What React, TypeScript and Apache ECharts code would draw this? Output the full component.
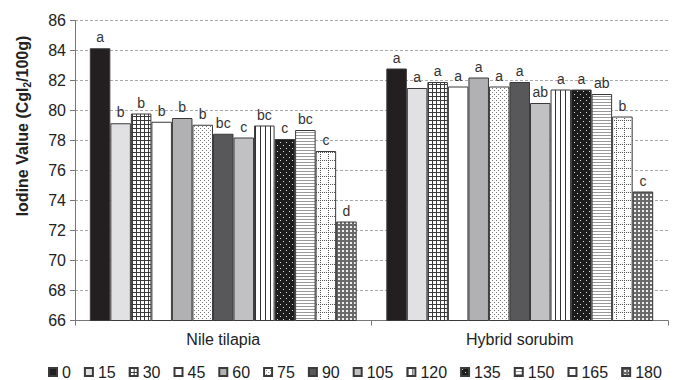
import React, { useEffect, useRef } from "react";
import * as echarts from "echarts";

const categories = ["Nile tilapia", "Hybrid sorubim"];
const times = ["0", "15", "30", "45", "60", "75", "90", "105", "120", "135", "150", "165", "180"];
const nileValues = [84.15, 79.15, 79.8, 79.25, 79.5, 79.05, 78.45, 78.2, 79.0, 78.1, 78.7, 77.3, 72.6];
const hybridValues = [82.8, 81.5, 81.9, 81.6, 82.2, 81.6, 81.9, 80.5, 81.4, 81.4, 81.1, 79.6, 74.6];
const nileLetters = ["a", "b", "b", "b", "b", "b", "bc", "c", "bc", "c", "bc", "c", "d"];
const hybridLetters = ["a", "a", "a", "a", "a", "a", "a", "ab", "a", "a", "ab", "b", "c"];
const yTicks = { min: 66, max: 86, interval: 2 };

const FONT = "Liberation Sans, Arial, Helvetica, sans-serif";

function tile(w: number, h: number, draw: (ctx: CanvasRenderingContext2D) => void) {
  const c = document.createElement("canvas");
  c.width = w;
  c.height = h;
  const ctx = c.getContext("2d")!;
  draw(ctx);
  return { image: c, repeat: "repeat", imageWidth: w, imageHeight: h } as any;
}

function makeFills(): any[] {
  const grid30 = tile(4, 4, (ctx) => {
    ctx.fillStyle = "#ffffff";
    ctx.fillRect(0, 0, 4, 4);
    ctx.fillStyle = "#3a3a3a";
    ctx.fillRect(0, 0, 4, 1);
    ctx.fillRect(0, 0, 1, 4);
  });
  const dots75 = tile(4, 4, (ctx) => {
    ctx.fillStyle = "#ffffff";
    ctx.fillRect(0, 0, 4, 4);
    ctx.fillStyle = "#777777";
    ctx.fillRect(0, 0, 1, 1);
    ctx.fillRect(2, 2, 1, 1);
  });
  const vlines120 = tile(5, 2, (ctx) => {
    ctx.fillStyle = "#ffffff";
    ctx.fillRect(0, 0, 5, 2);
    ctx.fillStyle = "#333333";
    ctx.fillRect(0, 0, 1, 2);
  });
  const dots135 = tile(6, 6, (ctx) => {
    ctx.fillStyle = "#1c1c1c";
    ctx.fillRect(0, 0, 6, 6);
    ctx.fillStyle = "#dddddd";
    ctx.fillRect(1, 1, 1, 1);
    ctx.fillRect(4, 4, 1, 1);
  });
  const hlines150 = tile(2, 3, (ctx) => {
    ctx.fillStyle = "#ffffff";
    ctx.fillRect(0, 0, 2, 3);
    ctx.fillStyle = "#999999";
    ctx.fillRect(0, 0, 2, 1);
  });
  const dgrid165 = tile(8, 8, (ctx) => {
    ctx.fillStyle = "#ffffff";
    ctx.fillRect(0, 0, 8, 8);
    ctx.fillStyle = "#555555";
    for (let i = 0; i < 8; i += 2) {
      ctx.fillRect(i, 0, 1, 1);
      ctx.fillRect(0, i, 1, 1);
    }
  });
  const grid180 = tile(4, 4, (ctx) => {
    ctx.fillStyle = "#f0f0f0";
    ctx.fillRect(0, 0, 4, 4);
    ctx.fillStyle = "#6a6a6a";
    ctx.fillRect(0, 0, 4, 2);
    ctx.fillRect(0, 0, 2, 4);
  });
  return [
    "#231f20",
    "#e1e1e3",
    grid30,
    "#ffffff",
    "#b1b1b3",
    dots75,
    "#58585a",
    "#c1c1c3",
    vlines120,
    dots135,
    hlines150,
    dgrid165,
    grid180,
  ];
}

export default function App() {
  const ref = useRef<HTMLDivElement>(null);
  useEffect(() => {
    if (!ref.current) return;
    const chart = echarts.init(ref.current, null, { renderer: "svg" });
    const fills = makeFills();
    const letters = [nileLetters, hybridLetters];
    chart.setOption({
      animation: false,
      backgroundColor: "#ffffff",
      grid: { left: 75, right: 10, top: 20.5, bottom: 59.5 },
      legend: {
        data: times,
        left: 48,
        top: 364,
        width: 630,
        padding: 0,
        icon: "rect",
        itemWidth: 8,
        itemHeight: 8,
        itemGap: 13,
        textStyle: { fontSize: 16, color: "#222", fontFamily: FONT },
      },
      xAxis: {
        type: "category",
        data: categories,
        axisLine: { lineStyle: { color: "#777", width: 1 } },
        axisTick: { show: true, length: 5, lineStyle: { color: "#777" } },
        axisLabel: { fontSize: 16, color: "#222", fontFamily: FONT, margin: 11 },
      },
      yAxis: {
        type: "value",
        min: yTicks.min,
        max: yTicks.max,
        interval: yTicks.interval,
        axisLine: { show: true, lineStyle: { color: "#777", width: 1 } },
        axisTick: { show: true, length: 5, lineStyle: { color: "#777" } },
        axisLabel: { fontSize: 16, color: "#222", fontFamily: FONT, margin: 9 },
        splitLine: { show: true, lineStyle: { color: "#aaa", type: [3, 2], width: 1 } },
      },
      graphic: [
        {
          type: "text",
          x: 22,
          y: 126,
          rotation: Math.PI / 2,
          style: {
            text: "{b|Iodine Value (CgI}{s|2}{b|/100g)}",
            align: "center",
            verticalAlign: "middle",
            rich: {
              b: { fontSize: 16, fontWeight: "bold", fontFamily: FONT, fill: "#222", lineHeight: 20 },
              s: { fontSize: 10, fontWeight: "bold", fontFamily: FONT, fill: "#222", lineHeight: 20, verticalAlign: "bottom", padding: [6, 0, 0, 0] },
            },
          },
        },
      ],
      series: times.map((t, i) => ({
        name: t,
        type: "bar",
        barGap: "0%",
        barCategoryGap: "10%",
        data: [nileValues[i], hybridValues[i]],
        itemStyle: { color: fills[i], borderColor: "#3a3a3a", borderWidth: 1 },
        label: {
          show: true,
          position: "top",
          distance: 4,
          fontSize: 14,
          color: "#333",
          fontFamily: FONT,
          formatter: (p: any) => letters[p.dataIndex][i],
        },
      })),
    });
    return () => chart.dispose();
  }, []);
  return <div ref={ref} style={{ width: 678, height: 380, position: "absolute", left: 0, top: 0 }} />;
}
